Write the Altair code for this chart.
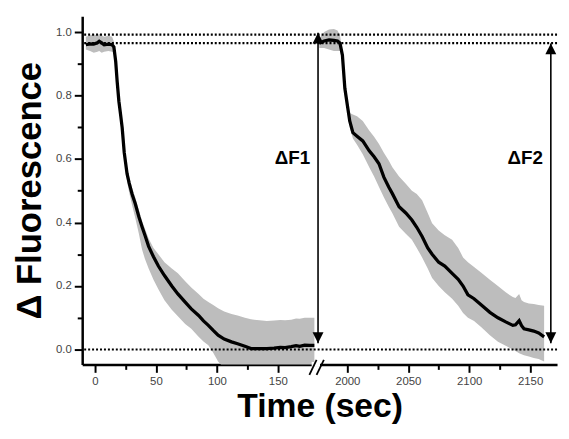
import altair as alt
import pandas as pd

# ---------------- data ----------------
# first segment (0-180 s)
t_left = [-7.5, -4, -1, 2, 3.5, 5.5, 7.5, 11, 14,
          15.5, 17, 18.2, 19.6, 21, 22.3, 24, 26.3, 28, 30.4,
          33, 36, 38.6, 41, 44, 48, 52, 57, 63, 68,
          74, 79, 85, 89, 93, 97, 101, 106, 112, 117,
          123, 128, 135, 141, 147, 152, 156, 161, 165, 168,
          172, 176, 180]
mean_left = [0.960, 0.963, 0.962, 0.966, 0.971, 0.966, 0.960, 0.962, 0.960,
             0.953, 0.907, 0.844, 0.782, 0.740, 0.699, 0.620, 0.554, 0.525, 0.490,
             0.460, 0.418, 0.387, 0.360, 0.325, 0.292, 0.263, 0.233, 0.200, 0.175,
             0.149, 0.128, 0.107, 0.090, 0.076, 0.060, 0.045, 0.033, 0.024, 0.018,
             0.010, 0.003, 0.003, 0.003, 0.004, 0.007, 0.006, 0.009, 0.012, 0.010,
             0.014, 0.013, 0.013]
hi_left = [0.985, 0.990, 0.993, 0.988, 0.995, 0.990, 0.985, 0.988, 0.985,
           0.970, 0.925, 0.860, 0.800, 0.760, 0.715, 0.640, 0.575, 0.545, 0.510,
           0.480, 0.440, 0.405, 0.380, 0.350, 0.320, 0.300, 0.275, 0.255, 0.240,
           0.215, 0.195, 0.175, 0.160, 0.150, 0.140, 0.130, 0.120, 0.112, 0.107,
           0.100, 0.095, 0.092, 0.090, 0.091, 0.093, 0.092, 0.094, 0.098, 0.097,
           0.100, 0.100, 0.100]
lo_left = [0.945, 0.940, 0.935, 0.938, 0.940, 0.935, 0.938, 0.940, 0.938,
           0.935, 0.890, 0.830, 0.765, 0.720, 0.680, 0.600, 0.530, 0.495, 0.455,
           0.415, 0.365, 0.315, 0.285, 0.255, 0.220, 0.190, 0.155, 0.125, 0.105,
           0.080, 0.065, 0.040, 0.025, 0.013, -0.010, -0.038, -0.060, -0.060, -0.060,
           -0.060, -0.060, -0.060, -0.060, -0.060, -0.060, -0.060, -0.060, -0.060, -0.060,
           -0.060, -0.060, -0.060]

# second segment (1980-2160 s)
t_right = [1977, 1981, 1985, 1989, 1992, 1994, 1996, 1998, 2000, 2002,
           2004.6, 2008, 2012.7, 2018, 2022, 2026, 2030, 2034, 2037, 2042.5,
           2048, 2053, 2057, 2061.4, 2066, 2069.6, 2075, 2080, 2086, 2091,
           2095, 2099, 2104, 2110, 2117, 2123.6, 2130, 2135.8, 2138, 2141,
           2143, 2145, 2149, 2153, 2157, 2161.5]
mean_right = [0.965, 0.972, 0.975, 0.974, 0.972, 0.965, 0.927, 0.823, 0.771, 0.720,
              0.683, 0.672, 0.657, 0.626, 0.607, 0.585, 0.543, 0.512, 0.491, 0.450,
              0.430, 0.408, 0.385, 0.356, 0.320, 0.300, 0.275, 0.263, 0.240, 0.221,
              0.200, 0.172, 0.160, 0.140, 0.117, 0.100, 0.087, 0.076, 0.078, 0.091,
              0.075, 0.065, 0.062, 0.058, 0.052, 0.040]
hi_right = [0.980, 1.000, 1.008, 1.010, 1.005, 0.990, 0.940, 0.835, 0.785, 0.745,
            0.740, 0.735, 0.720, 0.690, 0.670, 0.647, 0.620, 0.595, 0.574, 0.545,
            0.522, 0.500, 0.490, 0.470, 0.430, 0.398, 0.375, 0.360, 0.346, 0.320,
            0.290, 0.275, 0.260, 0.242, 0.220, 0.200, 0.180, 0.165, 0.162, 0.175,
            0.155, 0.150, 0.145, 0.143, 0.140, 0.138]
lo_right = [0.950, 0.950, 0.945, 0.940, 0.940, 0.940, 0.910, 0.810, 0.755, 0.700,
            0.665, 0.645, 0.615, 0.574, 0.545, 0.512, 0.480, 0.450, 0.429, 0.387,
            0.365, 0.346, 0.320, 0.290, 0.255, 0.225, 0.200, 0.180, 0.160, 0.138,
            0.115, 0.100, 0.090, 0.070, 0.045, 0.024, 0.012, 0.000, -0.005, -0.012,
            -0.015, -0.018, -0.022, -0.027, -0.030, -0.038]

# reference levels (dotted lines)
ref_levels = [0.0, 0.965, 0.992]

# double arrows (time, bottom, top) and labels
arrow_t = [183, 2167]
arrow_lo = [0.02, 0.02]
arrow_hi = [0.998, 0.964]
arrow_label = ["ΔF1", "ΔF2"]
label_y = 0.585

# axis break: time offset subtracted from the second segment
OFFSET = 1793
x_ticks_left = [0, 25, 50, 75, 100, 125, 150]
x_ticks_right = [2000, 2025, 2050, 2075, 2100, 2125, 2150]
y_ticks = [round(i * 0.1, 1) for i in range(11)]


def tx(t):
    return t - OFFSET if t > 1000 else t


rows = []
for t, m, l, h in zip(t_left, mean_left, lo_left, hi_left):
    rows.append(dict(seg="a", x=tx(t), mean=m, lo=l, hi=h))
for t, m, l, h in zip(t_right, mean_right, lo_right, hi_right):
    rows.append(dict(seg="b", x=tx(t), mean=m, lo=l, hi=h))
df = pd.DataFrame(rows)

df_ref = pd.DataFrame({"y": ref_levels})
df_arr = pd.DataFrame({"x": [tx(t) for t in arrow_t], "lo": arrow_lo,
                       "hi": arrow_hi, "label": arrow_label,
                       "ly": [label_y] * 2})

FONT = "Liberation Sans"
xscale = alt.Scale(domain=[-10.5, 379.1], nice=False, zero=False)
yscale = alt.Scale(domain=[-0.047, 1.05], nice=False, zero=False)

real = f"(datum.value > 190 ? datum.value + {OFFSET} : datum.value)"
x_vals = x_ticks_left + [tx(t) for t in x_ticks_right]

xaxis = alt.Axis(
    values=x_vals,
    labelExpr=f"{real} % 50 == 0 ? format({real}, 'd') : ''",
    tickSize={"condition": {"test": f"{real} % 50 == 0", "value": 8}, "value": 5},
    title="Time (sec)", grid=False,
    domainColor="black", domainWidth=2.5, tickColor="black", tickWidth=2,
    labelFont=FONT, labelFontSize=11.5, labelColor="#444444", labelPadding=3,
    titleFont=FONT, titleFontSize=34, titleFontWeight="bold", titleColor="black",
    titleBaseline="alphabetic", titleY=53,
)
yaxis = alt.Axis(
    values=y_ticks,
    labelExpr="round(datum.value * 10) % 2 == 0 ? format(datum.value, '.1f') : ''",
    tickSize={"condition": {"test": "round(datum.value * 10) % 2 == 0", "value": 8}, "value": 5},
    title="Δ Fluorescence", grid=False,
    domainColor="black", domainWidth=2.5, tickColor="black", tickWidth=2,
    labelFont=FONT, labelFontSize=11.5, labelColor="#444444", labelPadding=3,
    titleFont=FONT, titleFontSize=35, titleFontWeight="bold", titleColor="black",
    titlePadding=8,
)


def X(field):
    return alt.X(field, scale=xscale, axis=xaxis)


def Y(field):
    return alt.Y(field, scale=yscale, axis=yaxis)


band = alt.Chart(df).mark_area(color="#bdbdbd", clip=True).encode(
    x=X("x:Q"), y=Y("lo:Q"), y2="hi:Q", detail="seg:N",
)

refs = alt.Chart(df_ref).mark_rule(color="black", strokeWidth=2.2, strokeDash=[2, 2]).encode(
    y=Y("y:Q")
)

line = alt.Chart(df).mark_line(color="black", strokeWidth=3.3, clip=True).encode(
    x=X("x:Q"), y=Y("mean:Q"), detail="seg:N",
)

shaft = alt.Chart(df_arr).mark_rule(color="black", strokeWidth=1.6).encode(
    x=X("x:Q"), y=Y("lo:Q"), y2="hi:Q",
)
head_up = alt.Chart(df_arr).mark_point(
    shape="M0,0L0.5,1L-0.5,1Z", filled=True, size=484, color="black", opacity=1
).encode(x=X("x:Q"), y=Y("hi:Q"))
head_down = alt.Chart(df_arr).mark_point(
    shape="M0,0L0.5,-1L-0.5,-1Z", filled=True, size=484, color="black", opacity=1
).encode(x=X("x:Q"), y=Y("lo:Q"))
labels = alt.Chart(df_arr).mark_text(
    font=FONT, fontSize=19, fontWeight="bold", align="right", baseline="alphabetic",
    dx=-8, color="black"
).encode(x=X("x:Q"), y=Y("ly:Q"), text="label:N")

# axis-break decoration
df_gap = pd.DataFrame({"x": [177.8], "x2": [184.6], "y": [-0.047]})
gap = alt.Chart(df_gap).mark_rule(color="white", strokeWidth=5).encode(
    x=X("x:Q"), x2="x2:Q", y=Y("y:Q"),
)
df_sl = pd.DataFrame({"x": [175.9, 181.8], "x2": [181.8, 187.8],
                      "y": [-0.08, -0.08], "y2": [-0.033, -0.033]})
slashes = alt.Chart(df_sl).mark_rule(color="black", strokeWidth=1.8).encode(
    x=X("x:Q"), x2="x2:Q", y=Y("y:Q"), y2="y2:Q",
)

chart = alt.layer(band, refs, line, shaft, head_up, head_down, labels, gap, slashes).properties(
    width=480, height=352, background="white",
    autosize=alt.AutoSizeParams(type="none"),
    padding={"left": 75, "top": 6, "right": 4, "bottom": 62},
).configure_view(stroke=None)

chart.save("out.html", embed_options={"renderer": "svg", "actions": False})
